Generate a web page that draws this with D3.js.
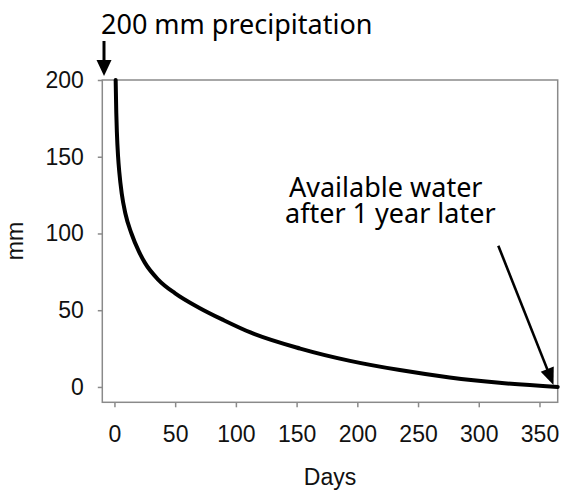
<!DOCTYPE html>
<html>
<head>
<meta charset="utf-8">
<script src="https://cdn.jsdelivr.net/npm/d3@7/dist/d3.min.js"></script>
<style>
  html, body { margin: 0; padding: 0; background: #fff; }
  svg { display: block; }
</style>
</head>
<body>
<svg id="chart" width="563" height="491"></svg>
<script>
// ---- data ----
const days = [1, 1.5, 2, 3, 4, 6, 9, 14, 20, 25, 36, 50, 70, 90, 112, 153, 194, 235, 276, 317, 365];
const water = [200, 179, 166, 150, 140, 126, 113, 100, 88.5, 81, 70, 61, 51.5, 43.5, 35.5, 25, 17, 11, 6.2, 2.7, 0];
const xTicks = [0, 50, 100, 150, 200, 250, 300, 350];
const yTicks = [0, 50, 100, 150, 200];
const xTitle = "Days";
const yTitle = "mm";
const noteTop = "200 mm precipitation";
const noteRight = ["Available water", "after 1 year later"];

// ---- layout ----
const svg = d3.select("#chart");
const L = 102.3, R = 557.7, T = 80, B = 402.3;
const x = d3.scaleLinear().domain([-10, 365]).range([L, R]);
const y = d3.scaleLinear().domain([-10, 200]).range([B, T]);
const axisFont = "'Liberation Sans', Arial, sans-serif";
const noteFont = "'Noto Sans', 'Open Sans', sans-serif";
const gray = "#8a8a8a";

// axes
const gx = svg.append("g").attr("transform", `translate(0,${B})`)
  .call(d3.axisBottom(x).tickValues(xTicks).tickSize(5).tickPadding(18).tickFormat(d3.format("d")));
const gy = svg.append("g").attr("transform", `translate(${L},0)`)
  .call(d3.axisLeft(y).tickValues(yTicks).tickSize(4.5).tickPadding(14).tickFormat(d3.format("d")));
[gx, gy].forEach(g => {
  g.select(".domain").remove();
  g.selectAll(".tick line").attr("stroke", gray).attr("stroke-width", 1.5);
  g.selectAll(".tick text").attr("fill", "#111").style("font-family", axisFont).style("font-size", "23px");
});

// box
svg.append("rect")
  .attr("x", L).attr("y", T).attr("width", R - L).attr("height", B - T)
  .attr("fill", "none").attr("stroke", gray).attr("stroke-width", 1.5);

// curve
const pts = days.map((d, i) => [d, water[i]]);
svg.append("path")
  .datum(pts)
  .attr("fill", "none")
  .attr("stroke", "#000")
  .attr("stroke-width", 4)
  .attr("stroke-linecap", "round")
  .attr("d", d3.line().x(d => x(d[0])).y(d => y(d[1])).curve(d3.curveMonotoneX));

// axis titles
svg.append("text")
  .attr("x", (L + R) / 2).attr("y", 485)
  .attr("text-anchor", "middle")
  .style("font-family", axisFont).style("font-size", "23px").attr("fill", "#111")
  .text(xTitle);
svg.append("text")
  .attr("transform", `translate(23,241) rotate(-90)`)
  .attr("text-anchor", "middle")
  .style("font-family", axisFont).style("font-size", "23px").attr("fill", "#111")
  .text(yTitle);

// annotations
svg.append("text")
  .attr("x", 101).attr("y", 34.3)
  .style("font-family", noteFont).style("font-size", "27px").attr("fill", "#000")
  .text(noteTop);
svg.append("text")
  .attr("x", 289).attr("y", 196.7)
  .style("font-family", noteFont).style("font-size", "27px").attr("fill", "#000")
  .text(noteRight[0]);
svg.append("text")
  .attr("x", 285).attr("y", 223.3)
  .style("font-family", noteFont).style("font-size", "27px").attr("fill", "#000")
  .text(noteRight[1]);

function arrow(x1, y1, x2, y2, w, headLen, headHalf) {
  const dx = x2 - x1, dy = y2 - y1, len = Math.hypot(dx, dy);
  const ux = dx / len, uy = dy / len;
  const bx = x2 - ux * headLen, by = y2 - uy * headLen;
  svg.append("line")
    .attr("x1", x1).attr("y1", y1).attr("x2", bx + ux * 1).attr("y2", by + uy * 1)
    .attr("stroke", "#000").attr("stroke-width", w);
  const px = -uy * headHalf, py = ux * headHalf;
  svg.append("path")
    .attr("d", `M${x2},${y2}L${bx + px},${by + py}L${bx - px},${by - py}Z`)
    .attr("fill", "#000");
}
arrow(104, 41, 104, 76, 3, 16, 7.5);
arrow(498.3, 245.7, 553.5, 385, 2.6, 17, 7);
</script>
</body>
</html>
